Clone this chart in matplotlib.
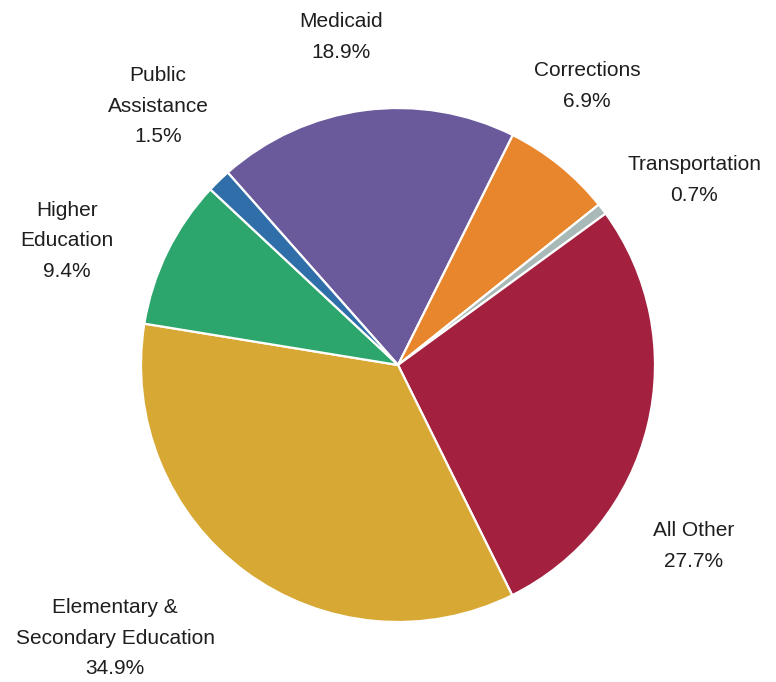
import matplotlib.pyplot as plt

# Spending categories, drawn clockwise from the top
categories = ['Medicaid', 'Corrections', 'Transportation', 'All Other',
              'Elementary &\nSecondary Education', 'Higher\nEducation',
              'Public\nAssistance']
shares = [18.9, 6.9, 0.7, 27.7, 34.9, 9.4, 1.5]
colors = ['#6a5a9c', '#e8862e', '#a9b9b8', '#a3203f',
          '#d8a834', '#2ca66c', '#2f6ea8']

# label anchor points (pixel coords, y measured from the top)
label_pos = [(341, 37), (587, 86), (694, 180), (694, 546),
             (115, 638), (67, 241), (158, 106)]

plt.rcParams['font.family'] = ['Liberation Sans', 'DejaVu Sans']

W, H = 776, 682
fig = plt.figure(figsize=(W / 100, H / 100), dpi=100)
ax = fig.add_axes([0, 0, 1, 1])

ax.pie(shares, colors=colors, startangle=131.5, counterclock=False,
       center=(398, H - 365), radius=257,
       wedgeprops=dict(edgecolor='white', linewidth=1.6))

# pie() rescales the axes, so fix the pixel frame afterwards
ax.set_xlim(0, W)
ax.set_ylim(0, H)
ax.set_aspect('equal')
ax.axis('off')

for name, val, (x, y) in zip(categories, shares, label_pos):
    ax.text(x, H - y, f'{name}\n{val}%', ha='center', va='center',
            fontsize=15, color='#1e1e1e', linespacing=1.75)

fig.savefig('out.png', dpi=100)
